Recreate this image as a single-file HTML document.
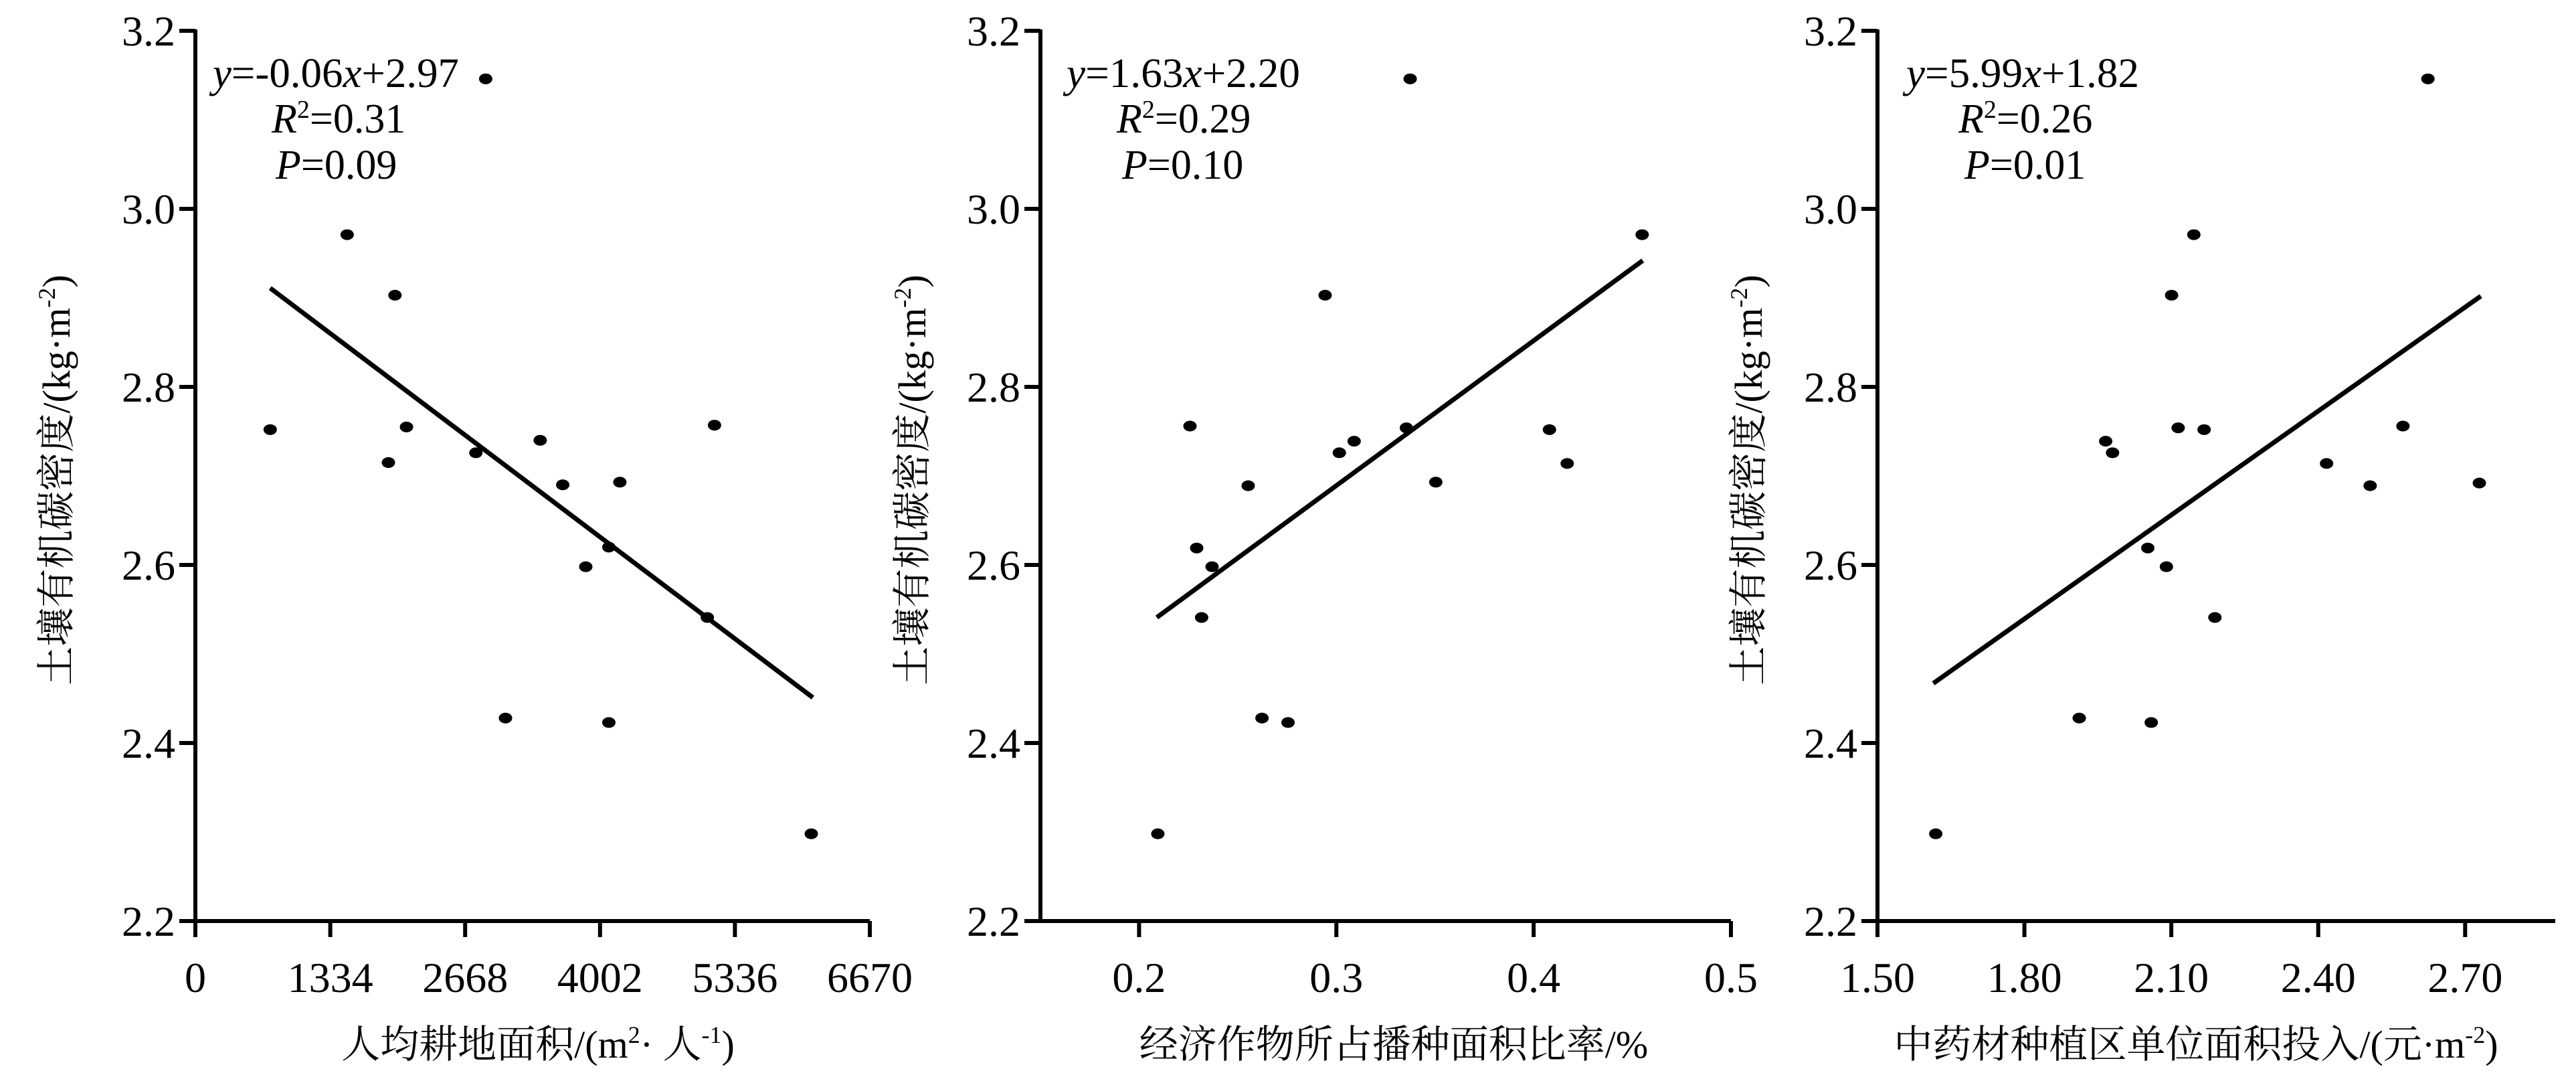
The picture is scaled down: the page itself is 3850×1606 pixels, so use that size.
<!DOCTYPE html>
<html><head><meta charset="utf-8"><style>
html,body{margin:0;padding:0;background:#fff;}
svg{display:block;}
text{font-family:"Liberation Serif","Noto Serif CJK SC",serif;fill:#000;}
</style></head><body>
<svg id="chart" width="3850" height="1606" viewBox="0 0 3850 1606" xmlns="http://www.w3.org/2000/svg"></svg>
<script>
// Shared y data (soil organic carbon density)
const yValues = [3.146,2.971,2.903,2.752,2.755,2.715,2.726,2.740,2.690,2.693,2.620,2.598,2.541,2.757,2.428,2.423,2.298];
const yTicks = [2.2,2.4,2.6,2.8,3.0,3.2];
const yTickLabels = ["2.2","2.4","2.6","2.8","3.0","3.2"];
// Panel 1
const x1Values = [2871,1501,1974,740,2088,1909,2774,3410,3633,4198,4089,3861,5063,5134,3067,4089,6091];
const x1Ticks = [0,1334,2668,4002,5336,6670];
const x1TickLabels = ["0","1334","2668","4002","5336","6670"];
const fit1X = [740,6107];
const fit1Y = [2.911,2.451];
// Panel 2
const x2Values = [0.3374,0.455,0.2943,0.2258,0.3355,0.417,0.3015,0.309,0.2553,0.3504,0.2292,0.237,0.2317,0.408,0.2623,0.2755,0.2095];
const y2Values = [3.146,2.971,2.903,2.756,2.754,2.714,2.726,2.739,2.689,2.693,2.619,2.598,2.541,2.752,2.428,2.423,2.298];
const x2Ticks = [0.2,0.3,0.4,0.5];
const x2TickLabels = ["0.2","0.3","0.4","0.5"];
const fit2X = [0.209,0.4553];
const fit2Y = [2.541,2.942];
// Panel 3
const x3Values = [2.624,2.146,2.1006,1.966,1.980,2.114,2.167,2.573,2.417,2.506,2.729,2.052,2.090,2.189,1.912,2.059,1.619];
const y3Values = [3.146,2.971,2.903,2.739,2.726,2.754,2.752,2.756,2.714,2.689,2.692,2.619,2.598,2.541,2.428,2.423,2.298];
const x3Ticks = [1.5,1.8,2.1,2.4,2.7];
const x3TickLabels = ["1.50","1.80","2.10","2.40","2.70"];
const fit3X = [1.614,2.732];
const fit3Y = [2.467,2.902];

const NS="http://www.w3.org/2000/svg";
const svg=document.getElementById('chart');
function mk(tag,attrs,parent){const e=document.createElementNS(NS,tag);for(const k in attrs)e.setAttribute(k,attrs[k]);(parent||svg).appendChild(e);return e;}

const Y0=1376, Y1=46, YMIN=2.2, YMAX=3.2;
function sy(v){return Y0-(v-YMIN)/(YMAX-YMIN)*(Y0-Y1);}

function panel(cfg){
  const g=mk('g',{});
  
  
  const sx=v=>cfg.ax+(v-cfg.xmin)/(cfg.xmax-cfg.xmin)*(cfg.axEnd-cfg.ax);
  const ya=mk('line',{x1:cfg.ax,y1:Y1-2,x2:cfg.ax,y2:Y0+2,stroke:'#000','stroke-width':6},g);
  
  
  const xa=mk('line',{x1:cfg.ax-3,y1:Y0,x2:cfg.axEnd,y2:Y0,stroke:'#000','stroke-width':6},g);
  
  
  yTicks.forEach((v,i)=>{
    const t=mk('line',{x1:cfg.ax-24,y1:sy(v),x2:cfg.ax,y2:sy(v),stroke:'#000','stroke-width':6},g);
    
    
    const l=mk('text',{x:cfg.ax-30,y:sy(v)+22,'text-anchor':'end','font-size':64},g);
    l.textContent=yTickLabels[i];
    
    
  });
  cfg.xTicks.forEach((v,i)=>{
    const t=mk('line',{x1:sx(v),y1:Y0,x2:sx(v),y2:Y0+24,stroke:'#000','stroke-width':6},g);
    
    
    const l=mk('text',{x:sx(v),y:1482,'text-anchor':'middle','font-size':64},g);
    l.textContent=cfg.xLabels[i];
    
    
  });
  const fl=mk('line',{x1:sx(cfg.fx[0]),y1:sy(cfg.fy[0]),x2:sx(cfg.fx[1]),y2:sy(cfg.fy[1]),stroke:'#000','stroke-width':7},g);
  
  
  cfg.xs.forEach((v,i)=>{
    const d=mk('ellipse',{cx:sx(v),cy:sy(cfg.ys[i]),rx:10,ry:8,fill:'#000'},g);
    
    
  });
  const yt=mk('text',{x:0,y:0,'text-anchor':'middle','font-size':58,transform:`translate(${cfg.ytx},717) rotate(-90)`},g);
  yt.innerHTML='土壤有机碳密度/(kg·m<tspan dy="-22" font-size="36">-2</tspan><tspan dy="22">)</tspan>';
  
  
  const xt=mk('text',{x:cfg.xtx,y:1580,'text-anchor':'middle','font-size':58},g);
  xt.innerHTML=cfg.xTitle;
  
  
  const a1=mk('text',{x:cfg.eqx,y:130,'font-size':62,textLength:cfg.eqw,lengthAdjust:'spacingAndGlyphs'},g);
  a1.innerHTML='<tspan font-style="italic">y</tspan>='+cfg.eq[0]+'<tspan font-style="italic">x</tspan>'+cfg.eq[1];
  
  
  const a2=mk('text',{x:cfg.rx,y:198,'font-size':62},g);
  a2.innerHTML='<tspan font-style="italic">R</tspan><tspan dy="-22" font-size="38">2</tspan><tspan dy="22">='+cfg.r2+'</tspan>';
  
  
  const a3=mk('text',{x:cfg.px,y:267,'font-size':62},g);
  a3.innerHTML='<tspan font-style="italic">P</tspan>='+cfg.p;
  
  
}

panel({name:'panel-farmland-per-capita',ax:292,axEnd:1300,xmin:0,xmax:6670,xTicks:x1Ticks,xLabels:x1TickLabels,xs:x1Values,ys:yValues,fx:fit1X,fy:fit1Y,ytx:104,xtx:804,
  xTitle:'人均耕地面积/(m<tspan dy="-22" font-size="36">2</tspan><tspan dy="22">· 人</tspan><tspan dy="-22" font-size="36">-1</tspan><tspan dy="22">)</tspan>',
  eqx:318,eqw:368,eq:['-0.06','+2.97'],rx:406,r2:'0.31',px:412,p:'0.09'});
panel({name:'panel-cash-crop-ratio',ax:1555,axEnd:2587,xmin:0.15,xmax:0.5,xTicks:x2Ticks,xLabels:x2TickLabels,xs:x2Values,ys:y2Values,fx:fit2X,fy:fit2Y,ytx:1383,xtx:2083,
  xTitle:'经济作物所占播种面积比率/%',
  eqx:1594,eqw:349,eq:['1.63','+2.20'],rx:1669,r2:'0.29',px:1677,p:'0.10'});
panel({name:'panel-herb-investment',ax:2806,axEnd:3819,xmin:1.5,xmax:2.884,xTicks:x3Ticks,xLabels:x3TickLabels,xs:x3Values,ys:y3Values,fx:fit3X,fy:fit3Y,ytx:2633,xtx:3282,
  xTitle:'中药材种植区单位面积投入/(元·m<tspan dy="-22" font-size="36">-2</tspan><tspan dy="22">)</tspan>',
  eqx:2849,eqw:348,eq:['5.99','+1.82'],rx:2927,r2:'0.26',px:2936,p:'0.01'});
</script>
</body></html>
